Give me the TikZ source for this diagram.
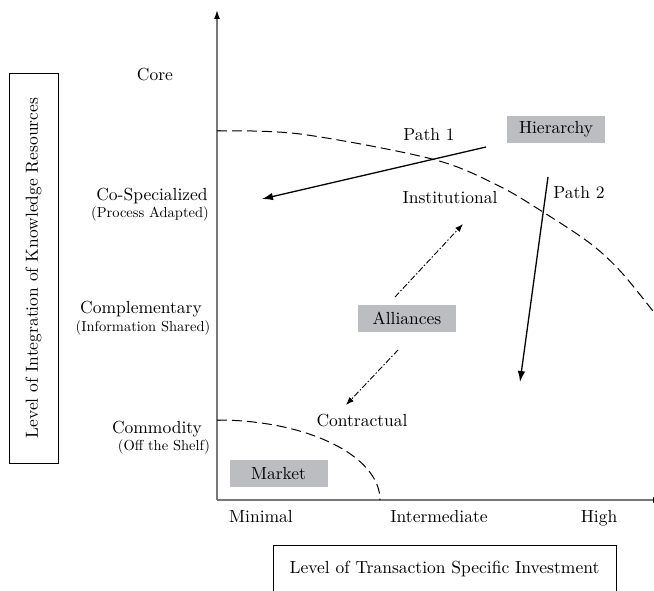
\documentclass[tikz,border=0pt]{standalone}
\usepackage{fontspec}
\setmainfont{lmroman10-regular}[Extension=.otf]
\usetikzlibrary{positioning,arrows.meta}
\definecolor{govgray}{RGB}{188,189,192}
\definecolor{axisgray}{RGB}{120,120,120}

\begin{document}
\begin{tikzpicture}[x=1pt,y=-1pt,
  lbl/.style={font=\fontsize{17.5}{20}\selectfont,anchor=base,inner sep=0pt},
  sublbl/.style={font=\fontsize{14.5}{16}\selectfont,anchor=base,inner sep=0pt},
  gov/.style={fill=govgray,minimum width=98pt,minimum height=27pt,inner sep=0pt,font=\fontsize{17.5}{20}\selectfont},
  axis/.style={draw=axisgray,line width=1.4pt,-{Latex[length=9pt,width=6pt,color=black]}},
  bound/.style={dash pattern=on 10pt off 5pt,line width=1pt},
  move/.style={line width=1.3pt,-{Latex[length=11pt,width=7.5pt]}},
  swing/.style={line width=0.9pt,dash pattern=on 6pt off 2pt on 1.5pt off 2pt,-{Latex[length=8pt,width=6pt]}}]
\useasboundingbox (0,0) rectangle (654,591);
\clip (0,0) rectangle (654,591);

% axes
\coordinate (O) at (217,500);
\coordinate (ytop) at (217,10);
\coordinate (xend) at (662,500);
\draw[axis] (O) -- (ytop);
\draw[axis] (O) -- (xend);
\foreach \t in {131,420} {
   \draw[axisgray,line width=1pt] (217,\t) -- (221,\t);
}

% axis titles
\node[draw,rotate=90,minimum width=390pt,minimum height=49pt,inner sep=0pt,font=\fontsize{17.5}{20}\selectfont] (ytitle) at (33.5,268) {Level of Integration of Knowledge Resources};
\node[draw,minimum width=343pt,minimum height=48pt,inner sep=0pt,font=\fontsize{17.5}{20}\selectfont] (xtitle) at (444.5,569) {Level of Transaction Specific Investment};

% levels on the y axis
\node[lbl] (core) at (155,81) {Core};
\node[lbl] (cospec) at (152,201) {Co-Specialized};
\node[sublbl] (procad) at (150,218) {(Process Adapted)};
\node[lbl] (compl) at (141,313) {Complementary};
\node[sublbl] (infosh) at (143,331) {(Information Shared)};
\node[lbl] (commod) at (157,433) {Commodity};
\node[sublbl] (offsh) at (164,450) {(Off the Shelf)};

% levels on the x axis
\foreach \x/\name/\txt in {261/minimal/Minimal,439/interm/Intermediate,599/high/High} {
   \node[lbl] (\name) at (\x,522) {\txt};
}

% boundaries
\draw[bound] (217,420) arc[start angle=-90,end angle=0,x radius=163,y radius=80];
\draw[bound] plot[smooth,tension=0.55] coordinates {(217,131) (300,134) (432,159) (497,185) (543,212) (591,244) (622,273) (656,315)};

% governance forms
\node[gov] (hier) at (556,129.5) {Hierarchy};
\node[gov] (alli) at (407,318.5) {Alliances};
\node[gov] (market) at (278.5,473.5) {Market};
\node[lbl] (inst) at (450,204) {Institutional};
\node[lbl] (contr) at (362,426) {Contractual};
\node[lbl] (path1) at (429,141) {Path 1};
\node[lbl] (path2) at (579,199) {Path 2};

% paths
\coordinate (p1a) at (486,147);
\coordinate (p1b) at (262,199);
\coordinate (p2a) at (548,177);
\coordinate (p2b) at (520,382);
\draw[move] (p1a) -- (p1b);
\draw[move] (p2a) -- (p2b);
\coordinate (up1) at (395,297);
\coordinate (up2) at (463,224);
\coordinate (dn1) at (398,350);
\coordinate (dn2) at (346,405);
\draw[swing] (up1) -- (up2);
\draw[swing] (dn1) -- (dn2);
\end{tikzpicture}
\end{document}
